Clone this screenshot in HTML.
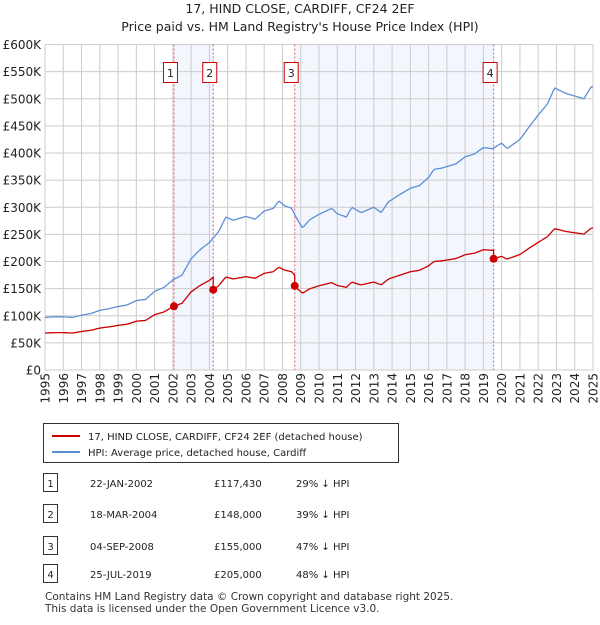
<!DOCTYPE html>
<html><head><meta charset="utf-8"><style>
body{margin:0;background:#fff;font-family:"Liberation Sans","DejaVu Sans",sans-serif;}
svg text{font-family:"DejaVu Sans","Liberation Sans",sans-serif;}
</style></head><body>
<svg id="c" width="600" height="620" xmlns="http://www.w3.org/2000/svg">
<text x="300" y="13" text-anchor="middle" font-size="12.5" fill="#222">17, HIND CLOSE, CARDIFF, CF24 2EF</text>
<text x="300" y="31" text-anchor="middle" font-size="12.5" fill="#222">Price paid vs. HM Land Registry's House Price Index (HPI)</text>
<g id="plot"></g>
<g>
<rect x="43.5" y="423.5" width="355" height="39" fill="#fff" stroke="#333"/>
<line x1="52" y1="436" x2="80" y2="436" stroke="#cc0000" stroke-width="2"/>
<text x="88" y="440" font-size="10" fill="#222">17, HIND CLOSE, CARDIFF, CF24 2EF (detached house)</text>
<line x1="52" y1="452" x2="80" y2="452" stroke="#5b8fd6" stroke-width="2"/>
<text x="88" y="456" font-size="10" fill="#222">HPI: Average price, detached house, Cardiff</text>
</g>
<g id="table"></g>
<text x="45" y="600" font-size="10.5" fill="#333">Contains HM Land Registry data © Crown copyright and database right 2025.</text>
<text x="45" y="612" font-size="10.5" fill="#333">This data is licensed under the Open Government Licence v3.0.</text>
</svg>
<script>
const hpiYears=[1995,1995.5,1996,1996.5,1997,1997.5,1998,1998.5,1999,1999.5,2000,2000.5,2001,2001.5,2002,2002.5,2003,2003.5,2004,2004.5,2004.9,2005.3,2006,2006.5,2007,2007.5,2007.8,2008.1,2008.5,2008.8,2009.1,2009.5,2010,2010.7,2011,2011.5,2011.8,2012.3,2013,2013.4,2013.8,2014.5,2015,2015.5,2016,2016.3,2016.7,2017.5,2018,2018.5,2019,2019.5,2020,2020.3,2021,2021.5,2022,2022.5,2022.9,2023.5,2024,2024.5,2024.9,2025];
const hpiValues=[97,98,98,97,101,104,110,113,117,120,128,130,145,152,166,175,205,222,235,255,282,276,283,278,293,298,312,303,298,278,262,277,287,298,288,282,300,290,300,290,310,325,335,340,355,370,372,380,393,398,410,408,418,408,425,448,470,490,520,510,505,500,522,522];
const saleDates=[2002.06,2004.21,2008.67,2019.56];
const salePrices=[117.43,148,155,205];
const saleLabels=["1","2","3","4"];
const saleDateText=["22-JAN-2002","18-MAR-2004","04-SEP-2008","25-JUL-2019"];
const salePriceText=["£117,430","£148,000","£155,000","£205,000"];
const saleDiffText=["29% ↓ HPI","39% ↓ HPI","47% ↓ HPI","48% ↓ HPI"];
const yTicks=[0,50,100,150,200,250,300,350,400,450,500,550,600];
const yTickLabels=["£0","£50K","£100K","£150K","£200K","£250K","£300K","£350K","£400K","£450K","£500K","£550K","£600K"];
const xTicks=[1995,1996,1997,1998,1999,2000,2001,2002,2003,2004,2005,2006,2007,2008,2009,2010,2011,2012,2013,2014,2015,2016,2017,2018,2019,2020,2021,2022,2023,2024,2025];

const NS="http://www.w3.org/2000/svg";
const X0=45,X1=593,Y0=370,Y1=44.5;
const xs=t=>X0+(t-1995)/30*(X1-X0);
const ys=v=>Y0-v/600*(Y0-Y1);
const plot=document.getElementById('plot');
function mk(tag,at,parent){const e=document.createElementNS(NS,tag);for(const k in at)e.setAttribute(k,at[k]);(parent||plot).appendChild(e);return e;}
function hpiAt(t){for(let i=0;i<hpiYears.length-1;i++){if(t<=hpiYears[i+1]){const f=(t-hpiYears[i])/(hpiYears[i+1]-hpiYears[i]);return hpiValues[i]+f*(hpiValues[i+1]-hpiValues[i]);}}return hpiValues[hpiValues.length-1];}
for(const [a,b] of [[0,1],[2,3]]){
 const r=mk('rect',{x:xs(saleDates[a]),y:Y1,width:xs(saleDates[b])-xs(saleDates[a]),height:Y0-Y1,fill:'#f3f6fd'});
 
 
}
yTicks.forEach((v,i)=>{
 const l=mk('line',{x1:X0,x2:X1,y1:ys(v),y2:ys(v),stroke:'#cccccc','stroke-width':1});
 
 
 const t=mk('text',{x:X0-4,y:ys(v)+4.5,'text-anchor':'end','font-size':12,fill:'#222'});
 t.textContent=yTickLabels[i];
 
 
});
xTicks.forEach(y=>{
 const l=mk('line',{x1:xs(y),x2:xs(y),y1:Y1,y2:Y0,stroke:'#cccccc','stroke-width':1});
 
 
 const t=mk('text',{x:0,y:0,'text-anchor':'end','font-size':12,fill:'#222',transform:`translate(${xs(y)+4.5},373) rotate(-90)`});
 t.textContent=y;
 
 
});
const bd=mk('rect',{x:X0,y:Y1,width:X1-X0,height:Y0-Y1,fill:'none',stroke:'#cccccc'});


saleDates.forEach((d,i)=>{
 const l=mk('line',{x1:xs(d),x2:xs(d),y1:Y1,y2:Y0,stroke:'#e06070','stroke-width':1,'stroke-dasharray':'2,2'});
 
 
 const g=mk('g',{});
 
 
 mk('rect',{x:xs(d)-10.5,y:62.5,width:14,height:20,fill:'#fff',stroke:'#cc0000'},g);
 const t=mk('text',{x:xs(d)-3.5,y:77,'text-anchor':'middle','font-size':11,fill:'#222'},g);t.textContent=saleLabels[i];
});
let p='';
for(let t=1995;t<=2025.001;t+=1/12){p+=(p?'L':'M')+xs(t).toFixed(1)+','+ys(hpiAt(t)).toFixed(1);}
const hl=mk('path',{d:p,fill:'none',stroke:'#5b8fd6','stroke-width':1.3});


function ratioAt(t){let k=0;for(let i=0;i<saleDates.length;i++){if(t>=saleDates[i])k=i;}return salePrices[k]/hpiAt(saleDates[k]);}
let q='';
const ts=[];for(let t=1995;t<=2025.001;t+=1/12)ts.push(t);
saleDates.forEach(d=>{ts.push(d-0.001);ts.push(d);});ts.sort((a,b)=>a-b);
ts.forEach(t=>{q+=(q?'L':'M')+xs(t).toFixed(1)+','+ys(hpiAt(t)*ratioAt(t)).toFixed(1);});
const pl=mk('path',{d:q,fill:'none',stroke:'#cc0000','stroke-width':1.3});


saleDates.forEach((d,i)=>{
 const c=mk('circle',{cx:xs(d),cy:ys(salePrices[i]),r:4,fill:'#cc0000'});
 
 
});
const tb=document.getElementById('table');
const rowY=[483,514,546,574];
rowY.forEach((y,i)=>{
 const g=mk('g',{},tb);
 
 
 mk('rect',{x:43.5,y:y-9.5,width:14,height:18,fill:'#fff',stroke:'#333'},g);
 const a=mk('text',{x:50.5,y:y+4,'text-anchor':'middle','font-size':10,fill:'#222'},g);a.textContent=saleLabels[i];
 const b=mk('text',{x:90,y:y+4,'font-size':10,fill:'#222'},g);b.textContent=saleDateText[i];
 const c=mk('text',{x:214,y:y+4,'font-size':10,fill:'#222'},g);c.textContent=salePriceText[i];
 const e=mk('text',{x:296,y:y+4,'font-size':10,fill:'#222'},g);e.textContent=saleDiffText[i];
});
</script>
</body></html>
